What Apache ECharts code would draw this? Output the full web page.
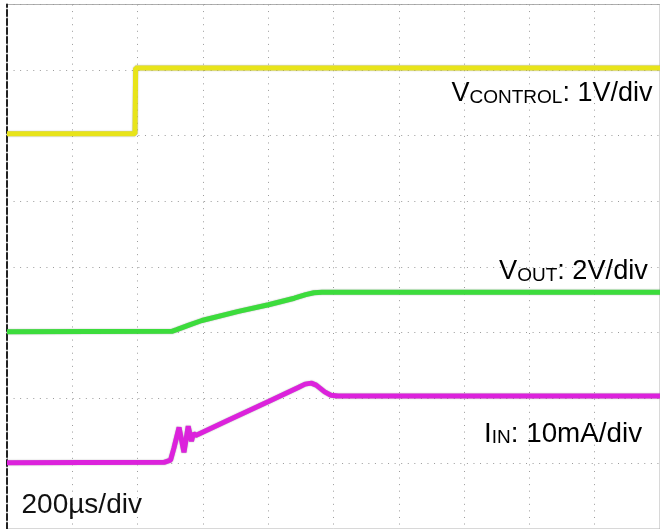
<!DOCTYPE html>
<html>
<head>
<meta charset="utf-8">
<script src="https://cdn.jsdelivr.net/npm/echarts@6/dist/echarts.min.js"></script>
<style>
html,body{margin:0;padding:0;background:#fff;}
#chart{width:660px;height:529px;}
</style>
</head>
<body>
<div id="chart"></div>
<script>
// Time in µs (200 µs/div), vertical position in screen divisions (0..8)
const timeTicks = [0, 200, 400, 600, 800, 1000, 1200, 1400, 1600, 1800, 2000];
const vControl = [[0, 6.03], [392, 6.03], [394, 7.03], [2000, 7.03]];
const vOut = [[0, 3.01], [505, 3.015], [520, 3.04], [557, 3.11], [597, 3.18], [709, 3.32], [801, 3.42],
  [880, 3.52], [915, 3.575], [940, 3.603], [965, 3.611], [2000, 3.611]];
const iIn = [[0, 1.01], [481, 1.017], [501, 1.052], [511, 1.23], [527, 1.549], [542, 1.169],
  [555, 1.568], [565, 1.34], [571, 1.457], [578, 1.427], [679, 1.663], [801, 1.944],
  [892, 2.157], [913, 2.21], [932, 2.225], [947, 2.195], [973, 2.091], [992, 2.04],
  [1014, 2.03], [2000, 2.03]];
const labels = {
  vcontrol: ['V', 'CONTROL', ': 1V/div'],
  vout: ['V', 'OUT', ': 2V/div'],
  iin: ['I', 'IN', ': 10mA/div'],
  time: '200µs/div'
};

const chart = echarts.init(document.getElementById('chart'), null, {renderer: 'canvas'});
const FONT = '"Liberation Sans", Arial, sans-serif';
function mkRich(big) {
  return {
    a: {fontSize: big, lineHeight: 27, fontFamily: FONT, color: '#111', verticalAlign: 'middle'},
    b: {fontSize: 19, lineHeight: 16, fontFamily: FONT, color: '#111', verticalAlign: 'bottom'}
  };
}
function lbl(parts, x, y, big) {
  return {type: 'text', x: x, y: y, z: 100,
    style: {text: '{a|' + parts[0] + '}{b|' + parts[1] + '}{a|' + parts[2] + '}', rich: mkRich(big), verticalAlign: 'top'}};
}
const dotted = {color: '#9a9a9a', width: 1, type: [1, 5.57]};
const traceShadow = {shadowColor: 'rgba(0,0,0,0.35)', shadowBlur: 1.5};
chart.setOption({
  animation: false,
  backgroundColor: '#fff',
  grid: {left: 7, top: 4.5, width: 657, height: 526.4, show: true, borderColor: '#b0b0b0', borderWidth: 1},
  xAxis: {type: 'value', min: timeTicks[0], max: timeTicks[timeTicks.length - 1], interval: 200,
    axisLine: {show: false}, axisTick: {show: false}, axisLabel: {show: false},
    splitLine: {show: true, lineStyle: dotted}},
  yAxis: {type: 'value', min: 0, max: 8, interval: 1,
    axisLine: {show: true, lineStyle: {color: '#222', width: 2, type: [6, 3]}},
    axisTick: {show: false}, axisLabel: {show: false},
    splitLine: {show: true, lineStyle: dotted}},
  series: [
    {type: 'line', data: vControl, showSymbol: false, lineStyle: Object.assign({color: '#e8e41a', width: 5}, traceShadow), z: 3},
    {type: 'line', data: vOut, showSymbol: false, lineStyle: Object.assign({color: '#3cdc3c', width: 5}, traceShadow), z: 3},
    {type: 'line', data: iIn, showSymbol: false, lineStyle: Object.assign({color: '#dc22dc', width: 5}, traceShadow), z: 3}
  ],
  graphic: [
    lbl(labels.vcontrol, 451.5, 80.4, 27),
    lbl(labels.vout, 499, 258.1, 27.2),
    lbl(labels.iin, 484, 420.4, 27.8),
    {type: 'text', x: 21.5, y: 491.5, z: 100,
      style: {text: labels.time, fontSize: 28, lineHeight: 28, fontFamily: FONT, fill: '#111', verticalAlign: 'top'}}
  ]
});
</script>
</body>
</html>
